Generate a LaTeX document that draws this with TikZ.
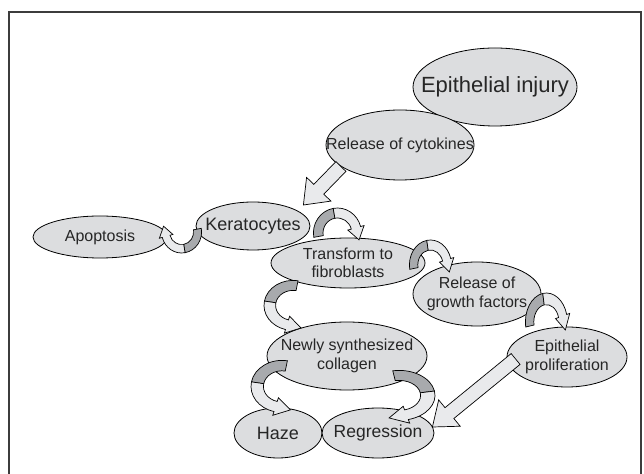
\documentclass[tikz,border=0pt]{standalone}
\usepackage{fontspec}
\setmainfont{Liberation Sans}
\usepackage{tikz}
\usetikzlibrary{calc, shapes.geometric, positioning}

\definecolor{ellfill}{RGB}{220,221,223}
\definecolor{ribdark}{RGB}{168,170,173}
\definecolor{riblight}{RGB}{233,234,236}
\definecolor{framegray}{RGB}{60,60,60}

\tikzset{
  stage/.style={ellipse, draw=black, line width=0.8pt, fill=ellfill, inner sep=0pt},
  stagetext/.style={align=center, text=black!85, inner sep=0pt, font=\fontsize{16}{18.5}\selectfont},
  bigtext/.style={stagetext, font=\fontsize{#1}{#1}\selectfont},
  ribbon/.style={draw=black, line width=0.7pt, fill=ribdark},
  ribbonlight/.style={draw=black, line width=0.7pt, fill=riblight},
  blockarrow/.style={draw=black, line width=0.7pt, fill=riblight}
}

% curved ribbon arrow: #1 = centre, #2 = size and turn
\newcommand{\curlarrow}[2]{%
  \begin{scope}[shift={(#1)}, #2]
    \filldraw[ribbon] (190:1) arc[start angle=190, end angle=100, radius=1]
      -- (100:0.6) arc[start angle=100, end angle=190, radius=0.6] -- cycle;
    \filldraw[ribbonlight] (100:1) arc[start angle=100, end angle=15, radius=1]
      -- (15:1.15) -- ($(15:0.8)+(-75:0.5)$) -- (15:0.45) -- (15:0.6)
      arc[start angle=15, end angle=100, radius=0.6] -- cycle;
  \end{scope}}

% straight block arrow from #1 to #2
\newcommand{\blockarr}[2]{%
  \coordinate (ba) at (#1);
  \coordinate (bb) at (#2);
  \coordinate (bh) at ($(bb)!22pt!(ba)$);
  \filldraw[blockarrow] ($(ba)!7pt!-90:(bb)$) -- ($(bh)!7pt!-90:(bb)$)
    -- ($(bh)!17pt!-90:(bb)$) -- (bb) -- ($(bh)!17pt!90:(bb)$)
    -- ($(bh)!7pt!90:(bb)$) -- ($(ba)!7pt!90:(bb)$) -- cycle;}

\begin{document}
\begin{tikzpicture}[x=1pt, y=1pt]
    \useasboundingbox (0,0) rectangle (644,473);
    % 1. Frame (open at the bottom)
    \draw[framegray, line width=2pt] (9,-20) |- (641,460.5) -- (641,-20);

    % 2. Stages
    \node[stage, minimum width=164pt, minimum height=78pt,
        label={[bigtext=22]center:Epithelial injury}] (injury) at (495,386) {};
    \node[stage, minimum width=148pt, minimum height=70pt,
        label={[stagetext]center:Release of cytokines}] (cyto) at (400,328) {};
    \node[stage, minimum width=114pt, minimum height=48pt,
        label={[bigtext=18]center:Keratocytes}] (kera) at (253,247) {};
    \node[stage, minimum width=134pt, minimum height=42pt,
        label={[stagetext]center:Apoptosis}] (apop) at (100,236) {};
    \node[stage, minimum width=154pt, minimum height=50pt,
        label={[stagetext]center:{Transform to\\fibroblasts}}] (trans) at (348,210) {};
    \node[stage, minimum width=128pt, minimum height=64pt,
        label={[stagetext]center:{Release of\\growth factors}}] (growth) at (477,179) {};
    \node[stage, minimum width=160pt, minimum height=68pt,
        label={[stagetext]center:{Newly synthesized\\collagen}}] (newly) at (347,117) {};
    \node[stage, minimum width=120pt, minimum height=60pt,
        label={[stagetext]center:{Epithelial\\proliferation}}] (prolif) at (567,116) {};
    \node[stage, minimum width=88pt, minimum height=50pt,
        label={[bigtext=18]center:Haze}] (haze) at (278,40) {};
    \node[stage, minimum width=112pt, minimum height=50pt,
        label={[bigtext=17.5]center:Regression}] (regr) at (378,40) {};

    % 3. Block arrows
    \coordinate (keratip) at ($(kera.east)+(-7,21)$);
    \blockarr{cyto.200}{keratip}
    \coordinate (prolifend) at ($(prolif.west)+(9,-2)$);
    \coordinate (regrtip) at ($(regr.east)+(-2,6)$);
    \blockarr{prolifend}{regrtip}

    % 4. Curved arrows
    \curlarrow{$(kera.east)+(27,-7)$}{xscale=24, yscale=25}
    \curlarrow{$(kera.west)+(-14,-6)$}{xscale=20, yscale=21, rotate=180}
    \curlarrow{$(trans.east)+(5,-2)$}{xscale=21, yscale=25}
    \curlarrow{$(growth.east)+(5,-28)$}{xscale=21, yscale=29}
    \curlarrow{$(trans.south)+(-55,-17)$}{xscale=29, yscale=25, rotate=90, xscale=-1}
    \curlarrow{$(newly.south)+(-65,4)$}{xscale=31, yscale=26, rotate=90, xscale=-1}
    \curlarrow{$(newly.south)+(52,-5)$}{xscale=36, yscale=25, rotate=-90}
\end{tikzpicture}
\end{document}
